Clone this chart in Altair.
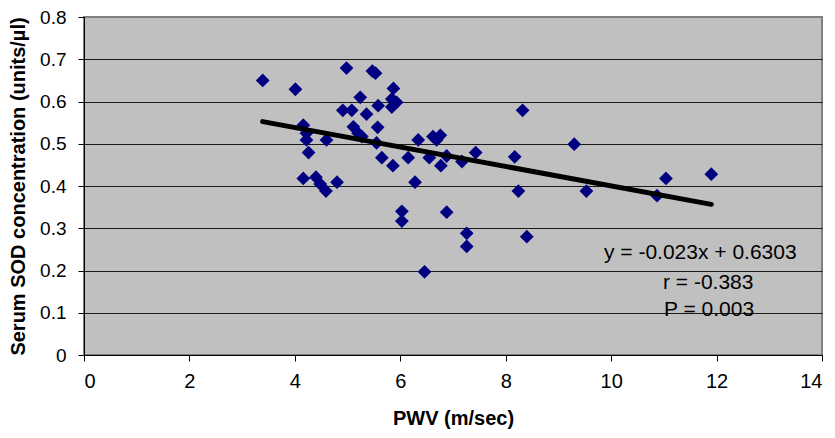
import altair as alt
import pandas as pd

# PWV (m/sec) values
pwv = [3.39, 4.01, 4.98, 5.47, 5.53, 5.87, 5.24, 5.84, 5.93, 5.84,
       5.58, 4.91, 5.08, 5.36, 4.16, 4.22, 4.22, 4.26, 4.60, 5.11,
       5.20, 5.27, 5.57, 5.55, 5.65, 5.86, 6.34, 6.15, 6.55, 6.62,
       6.69, 6.76, 6.28, 4.16, 4.40, 4.48, 4.59, 4.80, 6.03, 6.03,
       8.32, 9.30, 6.88, 6.77, 7.17, 7.43, 8.17, 8.24, 6.88, 7.26,
       7.26, 8.40, 6.46, 9.53, 11.04, 11.90, 10.87]
# Serum SOD concentration (units/µl)
sod = [0.650, 0.629, 0.679, 0.672, 0.667, 0.631, 0.610, 0.606, 0.598, 0.587,
       0.590, 0.579, 0.579, 0.570, 0.544, 0.525, 0.509, 0.479, 0.509, 0.540,
       0.525, 0.517, 0.539, 0.502, 0.467, 0.448, 0.509, 0.467, 0.467, 0.517,
       0.509, 0.520, 0.409, 0.418, 0.421, 0.405, 0.388, 0.409, 0.340, 0.317,
       0.579, 0.499, 0.471, 0.448, 0.458, 0.479, 0.469, 0.388, 0.338, 0.288,
       0.257, 0.280, 0.197, 0.388, 0.418, 0.428, 0.377]

slope = -0.023
intercept = 0.6303
annotations = ["y = -0.023x + 0.6303", "r = -0.383", "P = 0.003"]
x_ticks = [0, 2, 4, 6, 8, 10, 12, 14]
y_ticks = [0, 0.1, 0.2, 0.3, 0.4, 0.5, 0.6, 0.7, 0.8]

FONT = "Liberation Sans"
W, H = 738, 338

df = pd.DataFrame({"pwv": pwv, "sod": sod})
xs = [min(pwv), max(pwv)]
trend = pd.DataFrame({"pwv": xs, "sod": [slope * v + intercept for v in xs]})

x_enc = alt.X(
    "pwv:Q",
    scale=alt.Scale(domain=[0, 14], nice=False, zero=False),
    axis=alt.Axis(
        values=x_ticks, title="PWV (m/sec)", grid=False,
        labelFont=FONT, labelFontSize=20, labelColor="#000", labelPadding=10,
        titleFont=FONT, titleFontSize=20, titleFontWeight="bold", titleColor="#000",
        titleX=W / 2, titleY=63, titleBaseline="middle", titleAlign="center",
        domainColor="#000", domainWidth=1, tickColor="#000", tickSize=6,
    ),
)
y_enc = alt.Y(
    "sod:Q",
    scale=alt.Scale(domain=[0, 0.8], nice=False, zero=False),
    axis=alt.Axis(
        values=y_ticks, title="Serum SOD concentration (units/µl)",
        format="~g",
        grid=True,
        gridColor={"condition": {"test": "datum.value >= 0.8", "value": "#808080"}, "value": "#1a1a1a"},
        gridWidth=1,
        labelFont=FONT, labelFontSize=19, labelColor="#000", labelPadding=12,
        titleFont=FONT, titleFontSize=20, titleFontWeight="bold", titleColor="#000",
        titleAngle=270, titleX=-66, titleY=H / 2, titleBaseline="middle", titleAlign="center",
        domainColor="#000", domainWidth=1, tickColor="#000", tickSize=6,
    ),
)

points = alt.Chart(df).mark_point(
    shape="diamond", filled=True, size=190, color="#000080", opacity=1
).encode(x=x_enc, y=y_enc)

line = alt.Chart(trend).mark_line(
    color="#000", strokeWidth=5, strokeCap="round"
).encode(x="pwv:Q", y="sod:Q")

eq = alt.Chart(pd.DataFrame({"label": [annotations[0]]})).mark_text(
    font=FONT, fontSize=21, align="left", baseline="middle", color="#000"
).encode(text="label:N", x=alt.value(520), y=alt.value(236))
rr = alt.Chart(pd.DataFrame({"label": [annotations[1]]})).mark_text(
    font=FONT, fontSize=21, align="left", baseline="middle", color="#000"
).encode(text="label:N", x=alt.value(579), y=alt.value(266))
pp = alt.Chart(pd.DataFrame({"label": [annotations[2]]})).mark_text(
    font=FONT, fontSize=21, align="left", baseline="middle", color="#000"
).encode(text="label:N", x=alt.value(580), y=alt.value(293))

chart = alt.layer(points, line, eq, rr, pp).properties(
    width=W, height=H,
    autosize=alt.AutoSizeParams(type="none"),
    padding={"left": 76, "top": 9, "right": 5, "bottom": 75},
    background="white",
).configure_view(
    fill="#C0C0C0", stroke="#808080", strokeWidth=2
)

chart.save("out.html", embed_options={"renderer": "svg", "actions": False})
